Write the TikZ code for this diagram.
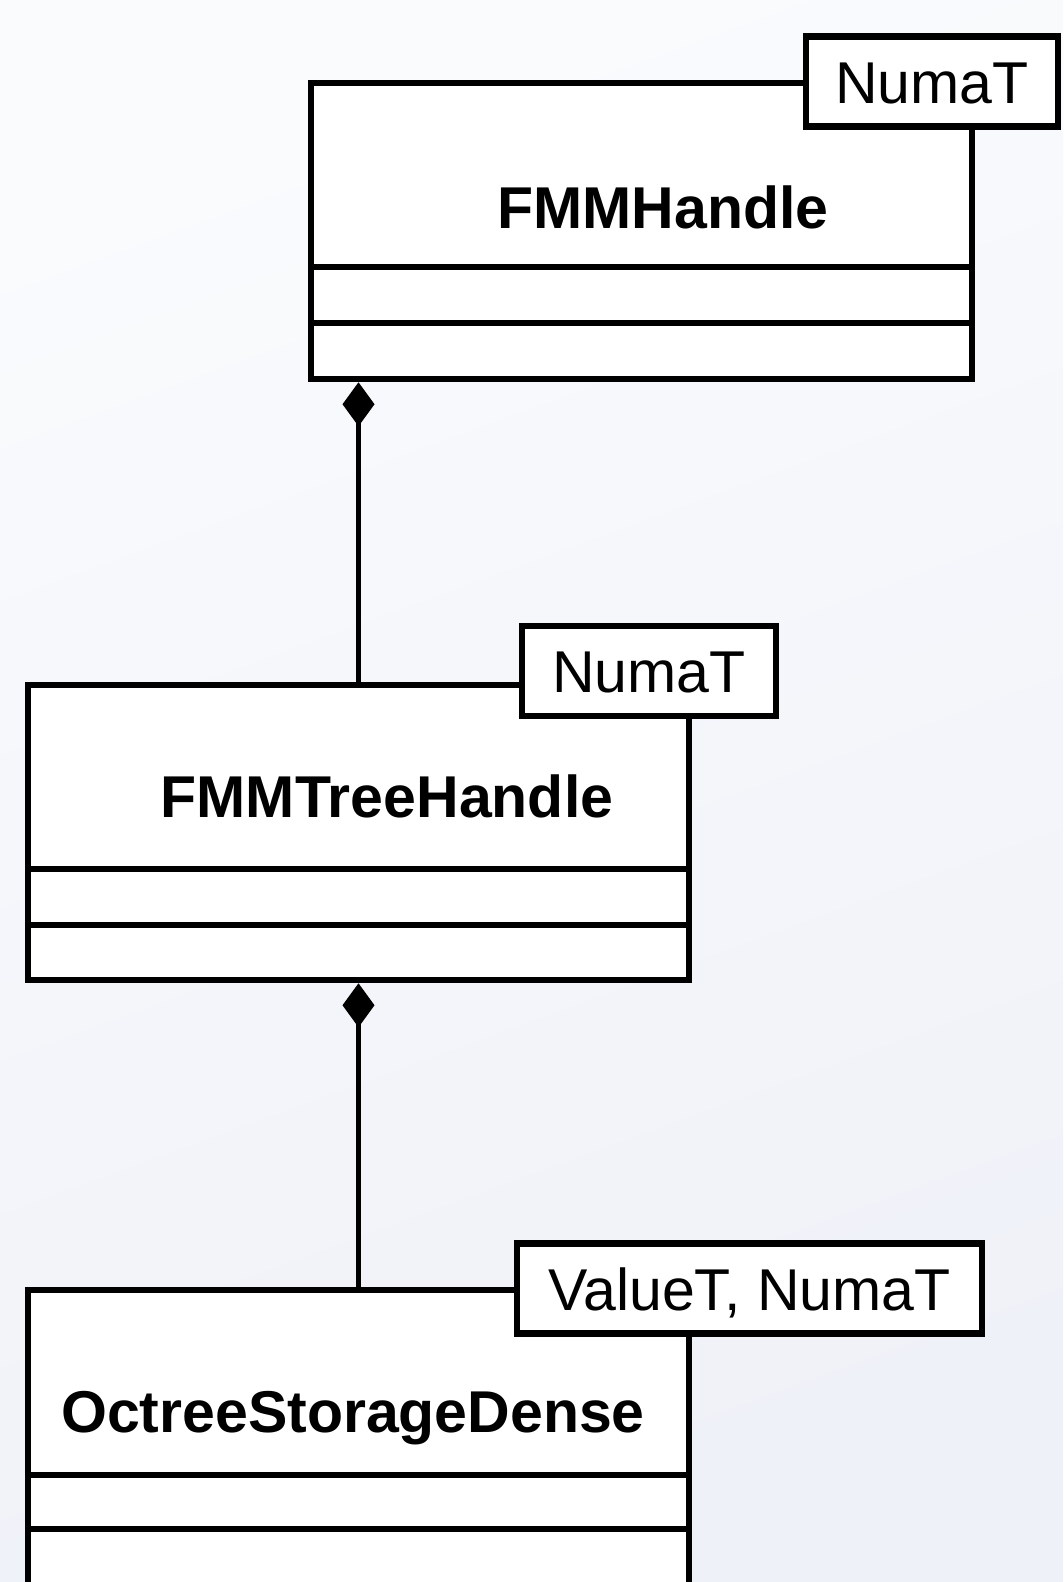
\documentclass[tikz,border=0pt]{standalone}
\usepackage{fontspec}
\setmainfont{Liberation Sans}
\usetikzlibrary{arrows.meta}
\definecolor{bgA}{RGB}{250,251,253}
\definecolor{bgB}{RGB}{239,241,248}
\tikzset{
  classbox/.style={draw=black, fill=white, line width=6.5pt, inner sep=0pt, minimum width=661pt},
  sepline/.style={draw=black, line width=6.5pt},
  tmpl/.style={draw=black, fill=white, line width=6.5pt, inner sep=0pt, minimum height=90pt,
    text height=43pt, text depth=0pt, font=\fontsize{59}{60}\selectfont},
  title/.style={anchor=base, inner sep=0pt, font=\fontsize{59}{60}\selectfont\bfseries},
  comp/.style={draw=black, line width=5.5pt, -{Diamond[length=44pt,width=32pt]}},
}
\begin{document}
\begin{tikzpicture}[x=1pt,y=-1pt]
\useasboundingbox (0,0) rectangle (1063,1582);
\shade[top color=bgA, bottom color=bgB, shading angle=20] (0,0) rectangle (1063,1582);

% class 1
\node[classbox, minimum height=296pt] (c1) at (641.5,231) {};
\draw[sepline] (c1.west |- 0,267) -- (c1.east |- 0,267);
\draw[sepline] (c1.west |- 0,323) -- (c1.east |- 0,323);
\node[title] (n1) at (663,228) {FMMHandle};
\node[tmpl, minimum width=252pt] (t1) at (932,81.5) {NumaT};

% class 2
\node[classbox, minimum height=295pt] (c2) at (358.5,832.5) {};
\draw[sepline] (c2.west |- 0,869) -- (c2.east |- 0,869);
\draw[sepline] (c2.west |- 0,925) -- (c2.east |- 0,925);
\node[title] (n2) at (387,817) {FMMTreeHandle};
\node[tmpl, minimum width=254pt] (t2) at (649,671) {NumaT};

% class 3
\node[classbox, minimum height=310pt] (c3) at (358.5,1445) {};
\draw[sepline] (c3.west |- 0,1475) -- (c3.east |- 0,1475);
\draw[sepline] (c3.west |- 0,1529) -- (c3.east |- 0,1529);
\node[title] (n3) at (353,1432) {OctreeStorageDense};
\node[tmpl, minimum width=465pt] (t3) at (749.5,1288.5) {ValueT, NumaT};

% compositions
\draw[comp] (c2.north) -- (c2.north |- c1.south);
\draw[comp] (c3.north) -- (c3.north |- c2.south);
\end{tikzpicture}
\end{document}
